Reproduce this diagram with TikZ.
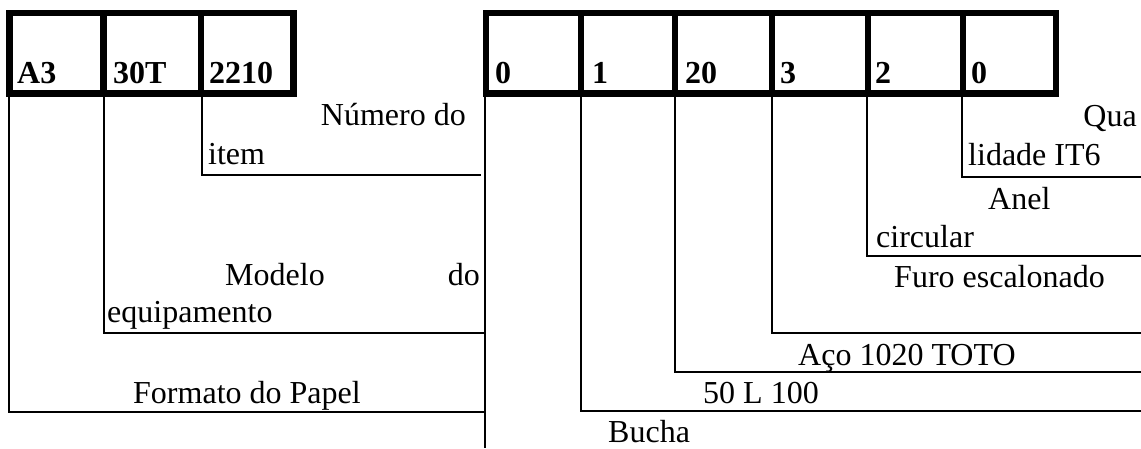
\documentclass[tikz,border=0pt]{standalone}
\usepackage{fontspec}
\setmainfont{Liberation Serif}
\begin{document}
\begin{tikzpicture}[x=1pt,y=-1pt,
  frame/.style={line width=6.5pt},
  lead/.style={line width=1.8pt},
  code/.style={inner sep=0pt,anchor=base west,font=\fontsize{32}{38}\selectfont\bfseries},
  lbl/.style={inner sep=0pt,anchor=base west,font=\fontsize{32}{38}\selectfont},
  lblr/.style={lbl,anchor=base east}]
\useasboundingbox (0,0) rectangle (1141,448);

% ---- code boxes ----
\draw[frame] (9.5,13) rectangle (293.5,93.5);
\foreach \x in {103.5,201} \draw[frame] (\x,13) -- (\x,93.5);
\draw[frame] (486,13) rectangle (1056,93.5);
\foreach \x in {581,675,772,868,963} \draw[frame] (\x,13) -- (\x,93.5);

% ---- code fields ----
\node[code] (cA3)   at (17,83)  {A3};
\node[code] (c30T)  at (113,83) {30T};
\node[code] (c2210) at (209,83) {2210};
\node[code] (c0a)   at (495,83) {0};
\node[code] (c1)    at (592,83) {1};
\node[code] (c20)   at (685,83) {20};
\node[code] (c3)    at (780,83) {3};
\node[code] (c2)    at (875,83) {2};
\node[code] (c0b)   at (971,83) {0};

% ---- lead line start points (under the boxes) ----
\coordinate (sA3)   at (9,96.75);
\coordinate (s30T)  at (104,96.75);
\coordinate (s2210) at (202,96.75);
\coordinate (s0a)   at (485,96.75);
\coordinate (s1)    at (581,96.75);
\coordinate (s20)   at (675,96.75);
\coordinate (s3)    at (772,96.75);
\coordinate (s2)    at (867,96.75);
\coordinate (s0b)   at (962,96.75);

% ---- lead line end points ----
\coordinate (eA3)   at (485,412);
\coordinate (e30T)  at (485,333);
\coordinate (e2210) at (481,175);
\coordinate (e0a)   at (485,448);
\coordinate (e1)    at (1141,411);
\coordinate (e20)   at (1141,372);
\coordinate (e3)    at (1141,333);
\coordinate (e2)    at (1141,256);
\coordinate (e0b)   at (1141,177);

% ---- lead lines ----
\draw[lead] (sA3) |- (eA3);
\draw[lead] (s30T) |- (e30T);
\draw[lead] (s2210) |- (e2210);
\draw[lead] (s0a) -- (e0a);
\draw[lead] (s1) |- (e1);
\draw[lead] (s20) |- (e20);
\draw[lead] (s3) |- (e3);
\draw[lead] (s2) |- (e2);
\draw[lead] (s0b) |- (e0b);

% ---- descriptions ----
\node[lblr] (numero)  at (466,125)  {Número do};
\node[lbl]  (item)    at (208,164)  {item};
\node[lbl]  (modelo)  at (225,285)  {Modelo};
\node[lblr] (modelob) at (480,285)  {do};
\node[lbl]  (equip)   at (107,322)  {equipamento};
\node[lbl]  (formato) at (133,403)  {Formato do Papel};

\node[lblr] (qua)     at (1137,126) {Qua};
\node[lbl]  (lidade)  at (968,165)  {lidade IT6};
\node[lbl]  (anel)    at (988,209)  {Anel};
\node[lbl]  (circ)    at (876,247)  {circular};
\node[lbl]  (furo)    at (894,287)  {Furo escalonado};
\node[lbl]  (aco)     at (798,365)  {Aço 1020 TOTO};
\node[lbl]  (medida)  at (703,403)  {50 L 100};
\node[lbl]  (bucha)   at (608,442)  {Bucha};
\end{tikzpicture}
\end{document}
